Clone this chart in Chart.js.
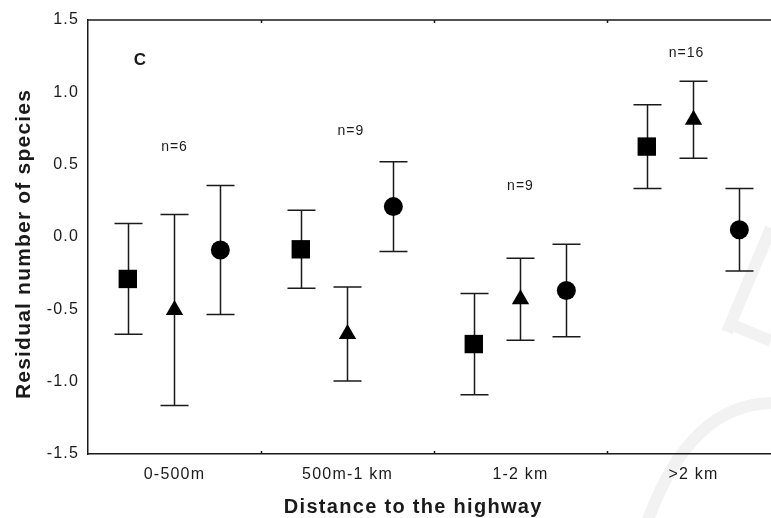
<!DOCTYPE html>
<html>
<head>
<meta charset="utf-8">
<script src="https://cdn.jsdelivr.net/npm/chart.js@4.4.1/dist/chart.umd.min.js"></script>
<style>
  html, body { margin: 0; padding: 0; background: #fff; overflow: hidden; }
  #wrap { width: 771px; height: 518px; position: relative; }
</style>
</head>
<body>
<div id="wrap"><canvas id="chart"></canvas></div>
<script>
// --- Données ---
const categories = ['0-500m', '500m-1 km', '1-2 km', '>2 km'];
const squareMean = [-0.29, -0.085, -0.74, 0.625];
const squareErr = [0.383, 0.27, 0.35, 0.29];
const triangleMean = [-0.505, -0.67, -0.43, 0.81];
const triangleErr = [0.66, 0.325, 0.283, 0.266];
const circleMean = [-0.09, 0.21, -0.37, 0.05];
const circleErr = [0.446, 0.31, 0.32, 0.285];
const nLabels = ['n=6', 'n=9', 'n=9', 'n=16'];
const yTicks = [-1.5, -1.0, -0.5, 0.0, 0.5, 1.0, 1.5];

// position des annotations (unités des axes)
const nLabelPos = [[0.5, 0.62], [1.52, 0.73], [2.5, 0.35], [3.46, 1.27]];
const INK = '#1a1a1a';
const FONT = '"Liberation Sans", Arial, sans-serif';

function series(mean, err, offset) {
    return mean.map((v, i) => ({ x: i + 0.5 + offset, y: v, err: err[i] }));
}

const datasets = [
    { label: 'square', data: series(squareMean, squareErr, -0.27), pointStyle: 'rect', pointRadius: 13 },
    { label: 'triangle', data: series(triangleMean, triangleErr, 0), pointStyle: 'triangle', pointRadius: 10 },
    { label: 'circle', data: series(circleMean, circleErr, 0.265), pointStyle: 'circle', pointRadius: 9.5 }
].map(d => ({
    ...d,
    showLine: false,
    pointBackgroundColor: '#000',
    pointBorderColor: '#000',
    pointBorderWidth: 0,
    pointHoverRadius: d.pointRadius
}));

// filigrane + barres d'erreur + cadre
const decorPlugin = {
    id: 'decor',
    beforeDraw(chart) {
        const ctx = chart.ctx;
        ctx.save();
        ctx.strokeStyle = '#f2f2f2';
        ctx.lineWidth = 12;
        ctx.beginPath();
        ctx.moveTo(771, 228); ctx.lineTo(727, 332);
        ctx.moveTo(730, 324); ctx.lineTo(771, 341);
        ctx.moveTo(648, 520); ctx.quadraticCurveTo(690, 405, 771, 403);
        ctx.stroke();
        ctx.restore();
        ctx.letterSpacing = '1.2px';
    },
    beforeDatasetsDraw(chart) {
        const ctx = chart.ctx;
        const y = chart.scales.y;
        const x = chart.scales.x;
        const area = chart.chartArea;
        ctx.save();
        ctx.strokeStyle = INK;
        ctx.lineWidth = 1.5;
        // ligne du haut
        ctx.beginPath();
        ctx.moveTo(area.left, area.top);
        ctx.lineTo(area.right, area.top);
        // petites graduations entre catégories
        [1, 2, 3].forEach(v => {
            const px = Math.round(x.getPixelForValue(v)) + 0.5;
            ctx.moveTo(px, area.top); ctx.lineTo(px, area.top + 3);
            ctx.moveTo(px, area.bottom); ctx.lineTo(px, area.bottom - 3);
        });
        ctx.stroke();
        // barres d'erreur
        chart.data.datasets.forEach((ds, di) => {
            const meta = chart.getDatasetMeta(di);
            meta.data.forEach((pt, i) => {
                const d = ds.data[i];
                const top = y.getPixelForValue(d.y + d.err);
                const bot = y.getPixelForValue(d.y - d.err);
                const cx = Math.round(pt.x) + 0.5;
                ctx.beginPath();
                ctx.moveTo(cx, top); ctx.lineTo(cx, bot);
                ctx.moveTo(cx - 14, top); ctx.lineTo(cx + 14, top);
                ctx.moveTo(cx - 14, bot); ctx.lineTo(cx + 14, bot);
                ctx.stroke();
            });
        });
        ctx.restore();
    },
    afterDraw(chart) {
        const ctx = chart.ctx;
        const x = chart.scales.x;
        const y = chart.scales.y;
        const area = chart.chartArea;
        ctx.save();
        ctx.fillStyle = INK;
        // annotations n=
        ctx.font = '14px ' + FONT;
        ctx.letterSpacing = '1px';
        ctx.textAlign = 'center';
        ctx.textBaseline = 'middle';
        nLabels.forEach((t, i) => {
            ctx.fillText(t, x.getPixelForValue(nLabelPos[i][0]), y.getPixelForValue(nLabelPos[i][1]));
        });
        // lettre du panneau
        ctx.font = 'bold 17px ' + FONT;
        ctx.letterSpacing = '0px';
        ctx.textBaseline = 'alphabetic';
        ctx.fillText('C', x.getPixelForValue(0.30), y.getPixelForValue(1.19));
        // titre axe x
        ctx.font = 'bold 20px ' + FONT;
        ctx.letterSpacing = '1.3px';
        ctx.fillText('Distance to the highway', x.getPixelForValue(1.88), 513);
        // titre axe y
        ctx.font = 'bold 21px ' + FONT;
        ctx.letterSpacing = '1.2px';
        ctx.translate(30, (area.top + area.bottom) / 2 + 7);
        ctx.rotate(-Math.PI / 2);
        ctx.fillText('Residual number of species', 0, 0);
        ctx.restore();
        ctx.letterSpacing = '0px';
    }
};

const ctx = document.getElementById('chart').getContext('2d');
new Chart(ctx, {
    type: 'scatter',
    data: { datasets },
    options: {
        responsive: true,
        maintainAspectRatio: false,
        animation: false,
        layout: { autoPadding: false, padding: { top: 20, right: 0, left: 0, bottom: 0 } },
        plugins: { legend: { display: false }, tooltip: { enabled: false } },
        scales: {
            x: {
                type: 'linear',
                min: 0,
                max: 3.948,
                afterBuildTicks: (scale) => { scale.ticks = categories.map((c, i) => ({ value: i + 0.5 })); },
                afterFit: (scale) => {
                    scale.height = 64;
                    scale.paddingLeft = 0;
                    scale.paddingRight = 0;
                },
                grid: { display: false, drawTicks: false },
                border: { display: true, color: INK, width: 1.5 },
                ticks: {
                    autoSkip: false,
                    maxRotation: 0,
                    padding: 11,
                    color: INK,
                    font: { family: FONT, size: 16 },
                    callback: (v) => categories[Math.floor(v)]
                }
            },
            y: {
                min: -1.5,
                max: 1.5,
                afterBuildTicks: (scale) => { scale.ticks = yTicks.map(v => ({ value: v })); },
                afterFit: (scale) => { scale.width = 88; },
                grid: { display: false, drawTicks: false },
                border: { display: true, color: INK, width: 1.5 },
                ticks: {
                    padding: 9,
                    color: INK,
                    font: { family: FONT, size: 16 },
                    callback: (v) => v.toFixed(1)
                }
            }
        }
    },
    plugins: [decorPlugin]
});
</script>
</body>
</html>
